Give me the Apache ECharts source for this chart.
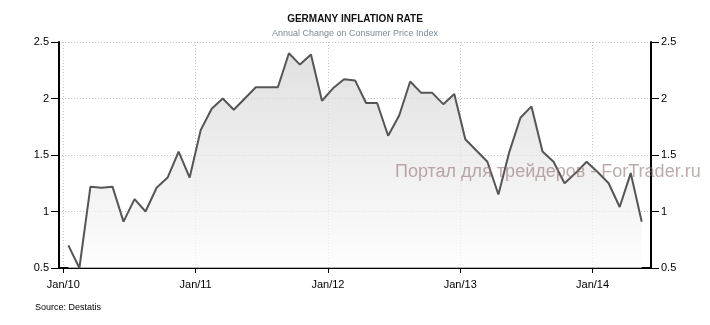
<!DOCTYPE html>
<html>
<head>
<meta charset="utf-8">
<script src="https://cdn.jsdelivr.net/npm/echarts@6/dist/echarts.min.js"></script>
<style>
  html, body { margin: 0; padding: 0; background: #ffffff; }
  #chart { width: 710px; height: 325px; }
</style>
</head>
<body>
<div id="chart"></div>
<script>
// Germany CPI, annual change in %, one value per month from Jan 2010 to May 2014
const inflation = [
  0.70, 0.50, 1.22, 1.21, 1.22, 0.91, 1.11, 1.00, 1.21, 1.30, 1.53, 1.30,   // 2010
  1.72, 1.91, 2.00, 1.90, 2.00, 2.10, 2.10, 2.10, 2.40, 2.30, 2.39, 1.98,   // 2011
  2.09, 2.17, 2.16, 1.96, 1.96, 1.67, 1.85, 2.15, 2.05, 2.05, 1.95, 2.04,   // 2012
  1.64, 1.54, 1.44, 1.15, 1.53, 1.83, 1.93, 1.53, 1.44, 1.25, 1.34, 1.44,   // 2013
  1.35, 1.25, 1.04, 1.34, 0.91                                              // 2014
];
const yearTickLabels = ['Jan/10', 'Jan/11', 'Jan/12', 'Jan/13', 'Jan/14'];
const yTicks = [0.5, 1, 1.5, 2, 2.5];
const titleText = 'GERMANY INFLATION RATE';
const subtitleText = 'Annual Change on Consumer Price Index';
const sourceText = 'Source: Destatis';
const watermarkText = 'Портал для трейдеров - ForTrader.ru';

// x is measured in months since 1 Jan 2010; readings sit at mid-month
const MID_MONTH = 0.46;
const seriesData = inflation.map((v, i) => [i + MID_MONTH, v]);
const yearTicks = yearTickLabels.map((_, i) => i * 12);
const xMin = -0.39;   // ~20 Dec 2009
const xMax = 53.3;    // ~10 Jun 2014

const labelFont = 'Liberation Sans, Arial, sans-serif';
const gridLine = { show: true, lineStyle: { color: '#c4c4c4', type: [1, 2], width: 1 } };
const axisLineStyle = { show: true, onZero: false, lineStyle: { color: '#000000', width: 2 } };

const chart = echarts.init(document.getElementById('chart'), null, { renderer: 'canvas' });
chart.setOption({
  animation: false,
  backgroundColor: '#ffffff',
  title: {
    left: 'center',
    top: 9,
    text: titleText,
    subtext: subtitleText,
    itemGap: 5,
    textStyle: { fontFamily: labelFont, fontSize: 10, fontWeight: 'bold', color: '#111111' },
    subtextStyle: { fontFamily: labelFont, fontSize: 9, color: '#7d8b98' }
  },
  grid: { left: 59, right: 59, top: 42, bottom: 57 },
  xAxis: {
    type: 'value',
    min: xMin,
    max: xMax,
    axisLine: axisLineStyle,
    axisTick: { show: true, length: 5, customValues: yearTicks, lineStyle: { color: '#000000', width: 1 } },
    axisLabel: {
      customValues: yearTicks,
      margin: 11,
      fontFamily: labelFont,
      fontSize: 11,
      color: '#000000',
      formatter: (val) => {
        const idx = yearTicks.indexOf(Math.round(val));
        return idx >= 0 ? yearTickLabels[idx] : '';
      }
    },
    splitLine: gridLine
  },
  yAxis: [
    {
      type: 'value', position: 'left', min: yTicks[0], max: yTicks[yTicks.length - 1], interval: 0.5,
      axisLine: axisLineStyle,
      axisTick: { show: true, length: 8, lineStyle: { color: '#000000', width: 1 } },
      axisLabel: { margin: 10, fontFamily: labelFont, fontSize: 11, color: '#000000' },
      splitLine: gridLine
    },
    {
      type: 'value', position: 'right', min: yTicks[0], max: yTicks[yTicks.length - 1], interval: 0.5,
      axisLine: axisLineStyle,
      axisTick: { show: true, length: 8, lineStyle: { color: '#000000', width: 1 } },
      axisLabel: { margin: 10, fontFamily: labelFont, fontSize: 11, color: '#000000' },
      splitLine: { show: false }
    }
  ],
  series: [{
    type: 'line',
    yAxisIndex: 0,
    data: seriesData,
    showSymbol: false,
    smooth: false,
    lineStyle: { color: '#555555', width: 2 },
    areaStyle: {
      origin: 'start',
      color: new echarts.graphic.LinearGradient(0, 0, 0, 1, [
        { offset: 0, color: '#d3d3d3' },
        { offset: 1, color: '#fdfdfd' }
      ])
    }
  }],
  graphic: [
    {
      type: 'text', left: 395, top: 163, silent: true, z: 100,
      style: { text: watermarkText, font: '18px Liberation Sans, Arial, sans-serif', fill: 'rgba(145,115,115,0.6)' }
    },
    {
      type: 'text', left: 35, top: 303, silent: true,
      style: { text: sourceText, font: '9px Liberation Sans, Arial, sans-serif', fill: '#000000' }
    }
  ]
});
</script>
</body>
</html>
